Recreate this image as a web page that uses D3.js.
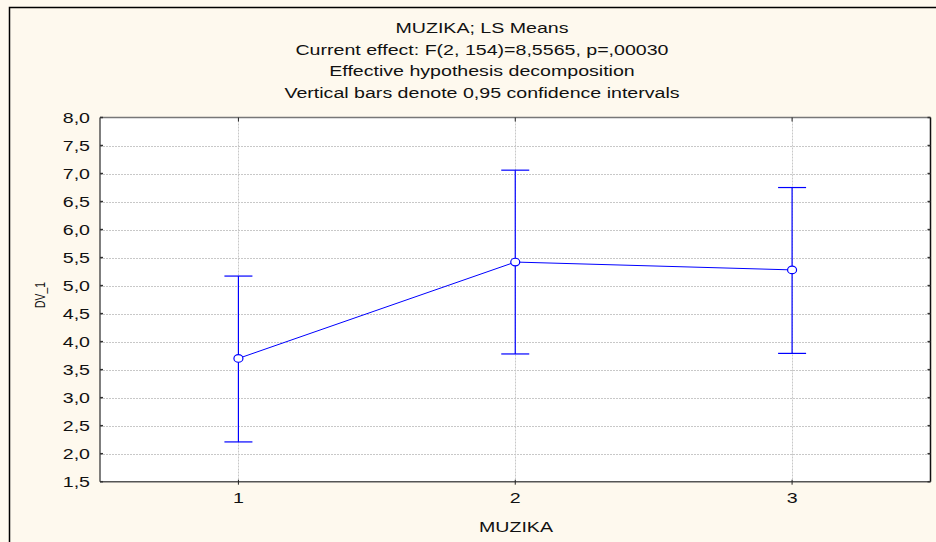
<!DOCTYPE html>
<html><head><meta charset="utf-8">
<script src="https://cdn.jsdelivr.net/npm/d3@7"></script>
<style>html,body{margin:0;padding:0;background:#FEF9EE;}svg{display:block;}</style>
</head><body>
<svg id="c" width="936" height="542"></svg>
<script>
const titleLines = ["MUZIKA; LS Means","Current effect: F(2, 154)=8,5565, p=,00030","Effective hypothesis decomposition","Vertical bars denote 0,95 confidence intervals"];
const categories = [1, 2, 3];
const means = [3.70, 5.42, 5.28];
const upper = [5.17, 7.06, 6.75];
const lower = [2.21, 3.78, 3.79];
const yTicks = [1.5,2.0,2.5,3.0,3.5,4.0,4.5,5.0,5.5,6.0,6.5,7.0,7.5,8.0];
const xLabel = "MUZIKA", yLabel = "DV_1";

const svg = d3.select("#c");
const SX = 1.4;
const L=100, R=930.5, T=117.5, B=481.7;
const x = d3.scaleLinear().domain([0.5,3.5]).range([L,R]);
const y = d3.scaleLinear().domain([1.5,8]).range([B,T]);
const font = "'Liberation Sans', Arial, sans-serif";
const fmt = v => d3.format(".1f")(v).replace(".", ",");

svg.append("rect").attr("width",936).attr("height",542).attr("fill","#FEF9EE");
// outer border
svg.append("path").attr("d","M9.5,542 V7.5 H936").attr("fill","none").attr("stroke","#000").attr("stroke-width",1.5);

function txt(s, tx, ty, anchor, size, tf) {
  return svg.append("text").attr("transform",`translate(${tx},${ty}) ` + (tf || `scale(${SX},1)`))
    .attr("text-anchor",anchor).attr("font-family",font).attr("font-size",size).attr("fill","#111").text(s);
}
const tBase=[33,54.5,76,97.5];
titleLines.forEach((t,i)=>txt(t,482,tBase[i],"middle",14));

// plot bg
svg.append("rect").attr("x",L).attr("y",T).attr("width",R-L).attr("height",B-T).attr("fill","#fff");

// grid
const g = svg.append("g");
g.selectAll(".hg").data(yTicks.slice(1,-1)).join("line")
  .attr("x1",L).attr("x2",R).attr("y1",d=>Math.round(y(d))+0.5).attr("y2",d=>Math.round(y(d))+0.5)
  .attr("stroke","#c8c8c8").attr("stroke-dasharray","2,1");
g.selectAll(".vg").data(categories).join("line")
  .attr("x1",d=>Math.round(x(d))+0.5).attr("x2",d=>Math.round(x(d))+0.5).attr("y1",T).attr("y2",B)
  .attr("stroke","#c8c8c8").attr("stroke-dasharray","2,1");

// axes frame
svg.append("line").attr("x1",L).attr("x2",R).attr("y1",T).attr("y2",T).attr("stroke","#777").attr("stroke-width",1.5);
svg.append("line").attr("x1",L).attr("x2",R).attr("y1",B).attr("y2",B).attr("stroke","#555").attr("stroke-width",1.5);
svg.append("line").attr("x1",L).attr("x2",L).attr("y1",T).attr("y2",B).attr("stroke","#555").attr("stroke-width",1.5);
svg.append("line").attr("x1",R).attr("x2",R).attr("y1",T).attr("y2",B).attr("stroke","#111").attr("stroke-width",1.5);

// ticks
svg.selectAll(".ytl").data(yTicks).join("line").attr("x1",L).attr("x2",L+3).attr("y1",d=>y(d)).attr("y2",d=>y(d)).attr("stroke","#333").attr("stroke-width",1.5);
svg.selectAll(".ytr").data(yTicks).join("line").attr("x1",R-3).attr("x2",R).attr("y1",d=>y(d)).attr("y2",d=>y(d)).attr("stroke","#333").attr("stroke-width",1.5);
svg.selectAll(".xtb").data(categories).join("line").attr("x1",d=>x(d)).attr("x2",d=>x(d)).attr("y1",B-2).attr("y2",B+3).attr("stroke","#222");
svg.selectAll(".xtt").data(categories).join("line").attr("x1",d=>x(d)).attr("x2",d=>x(d)).attr("y1",T).attr("y2",T+4).attr("stroke","#222");

// tick labels
yTicks.forEach(v=>txt(fmt(v),90,y(v)+5.5,"end",14));
categories.forEach(c=>txt(String(c),x(c),503,"middle",14));
txt(xLabel,516,531.5,"middle",14);
txt(yLabel,45,295,"middle",14,"scale(1,0.74) rotate(-90)");

// data
const blue="#0000FF";
const line = d3.line().x((d,i)=>x(categories[i])).y(d=>y(d));
svg.append("path").attr("d",line(means)).attr("fill","none").attr("stroke",blue).attr("stroke-width",1);
categories.forEach((c,i)=>{
  const cx=x(c);
  svg.append("line").attr("x1",cx).attr("x2",cx).attr("y1",y(upper[i])).attr("y2",y(lower[i])).attr("stroke",blue).attr("stroke-width",1.2);
  [upper[i],lower[i]].forEach(v=>svg.append("line").attr("x1",cx-14).attr("x2",cx+14).attr("y1",y(v)).attr("y2",y(v)).attr("stroke",blue).attr("stroke-width",1.2));
  svg.append("ellipse").attr("cx",cx).attr("cy",y(means[i])).attr("rx",4.5).attr("ry",3.8).attr("fill","#fff").attr("stroke",blue).attr("stroke-width",1.2);
});
</script>
</body></html>
